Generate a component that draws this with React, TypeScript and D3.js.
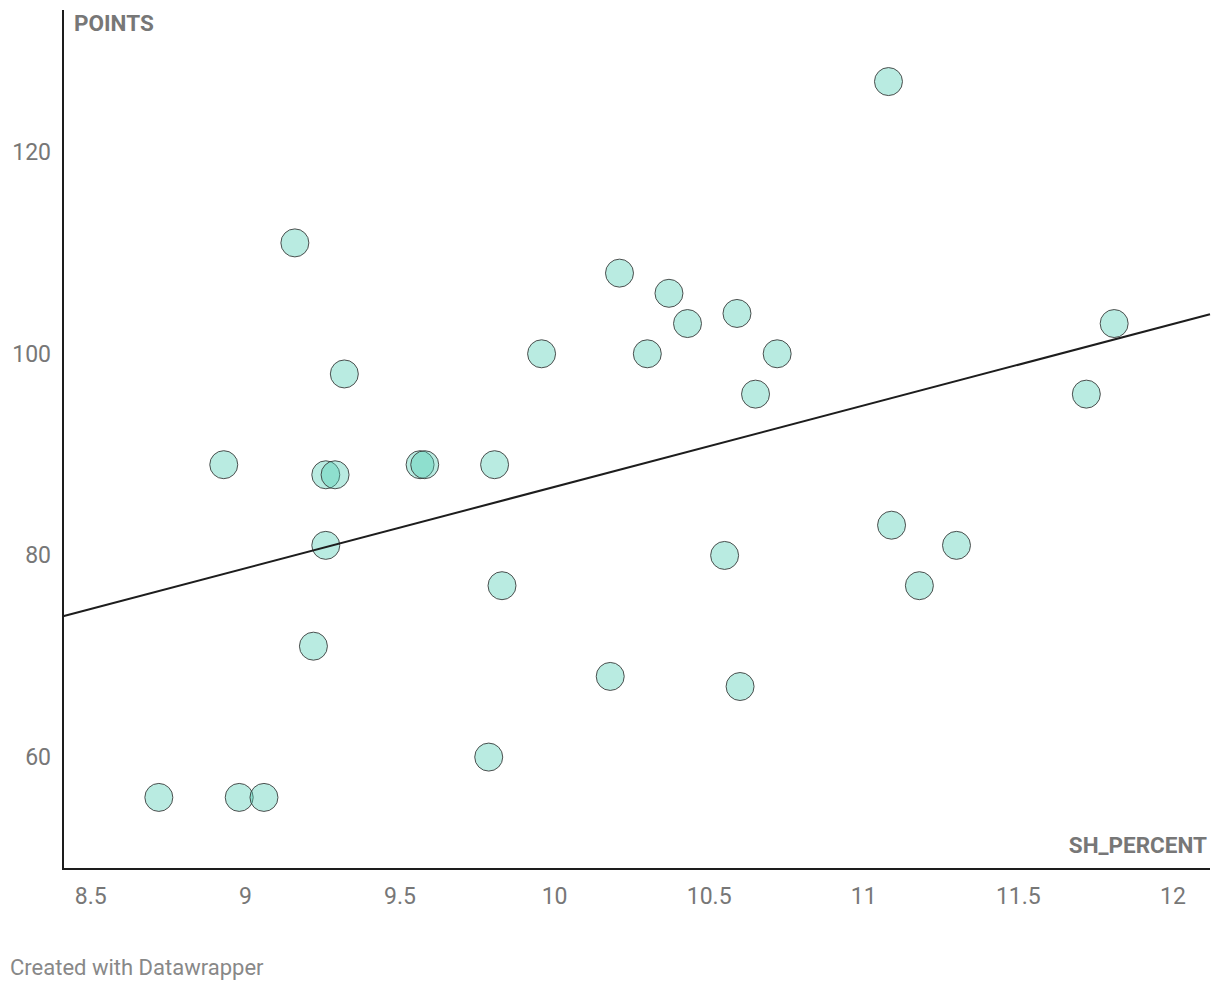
import React from "react";
import * as d3 from "d3";

// SH_PERCENT / POINTS pairs
const shPercent = [
    8.72, 8.98, 9.06, 8.93, 9.16, 9.22, 9.26, 9.26, 9.29, 9.32, 9.565, 9.58,
    9.806, 9.787, 9.83, 9.958, 10.18, 10.21, 10.3, 10.37, 10.43, 10.55, 10.59,
    10.6, 10.65, 10.72, 11.08, 11.09, 11.18, 11.3, 11.72, 11.81,
];
const points = [
    56, 56, 56, 89, 111, 71, 81, 88, 88, 98, 89, 89, 89, 60, 77, 100, 68, 108,
    100, 106, 103, 80, 104, 67, 96, 100, 127, 83, 77, 81, 96, 103,
];

// regression line end points
const trendX = [8.41, 12.12];
const trendY = [73.96, 103.92];

const xTicks = [8.5, 9, 9.5, 10, 10.5, 11, 11.5, 12];
const yTicks = [60, 80, 100, 120];

const width = 1220;
const height = 1006;
const font = "Roboto, 'Noto Sans', sans-serif";

const App = () => {
    const x = d3.scaleLinear().domain([8.41, 12.12]).range([63, 1210]);
    const y = d3.scaleLinear().domain([48.9, 134]).range([869, 11]);

    const data = shPercent.map((v, i) => ({ x: v, y: points[i] }));
    const trend = trendX.map((v, i) => [v, trendY[i]] as [number, number]);

    const line = d3
        .line<[number, number]>()
        .x((d) => x(d[0]))
        .y((d) => y(d[1]));

    return (
        <svg
            width={width}
            height={height}
            style={{ position: "absolute", left: 0, top: 0, background: "#fff" }}
            fontFamily={font}
        >
            {/* axes */}
            <line x1={63} x2={63} y1={10} y2={870} stroke="#1d1d1d" strokeWidth={2} />
            <line x1={62} x2={1210} y1={869} y2={869} stroke="#1d1d1d" strokeWidth={2} />

            {yTicks.map((t) => (
                <text
                    key={t}
                    x={51}
                    y={y(t) + 8}
                    textAnchor="end"
                    fontSize={23}
                    fill="#777"
                >
                    {t}
                </text>
            ))}
            {xTicks.map((t) => (
                <text
                    key={t}
                    x={x(t)}
                    y={904}
                    textAnchor="middle"
                    fontSize={23}
                    fill="#777"
                >
                    {t}
                </text>
            ))}

            <text x={74} y={31} fontSize={22.5} fontWeight="bold" fill="#777">
                POINTS
            </text>
            <text
                x={1207}
                y={853}
                textAnchor="end"
                fontSize={22.5}
                fontWeight="bold"
                fill="#777"
            >
                SH_PERCENT
            </text>

            {data.map((d, i) => (
                <circle
                    key={i}
                    cx={x(d.x)}
                    cy={y(d.y)}
                    r={14}
                    fill="rgba(74,203,177,0.39)"
                    stroke="#333"
                    strokeOpacity={0.85}
                    strokeWidth={1}
                />
            ))}

            <path d={line(trend) || ""} fill="none" stroke="#1d1d1d" strokeWidth={2} />

            <text x={10} y={975} fontSize={22} fill="#888">
                Created with Datawrapper
            </text>
        </svg>
    );
};

export default App;
